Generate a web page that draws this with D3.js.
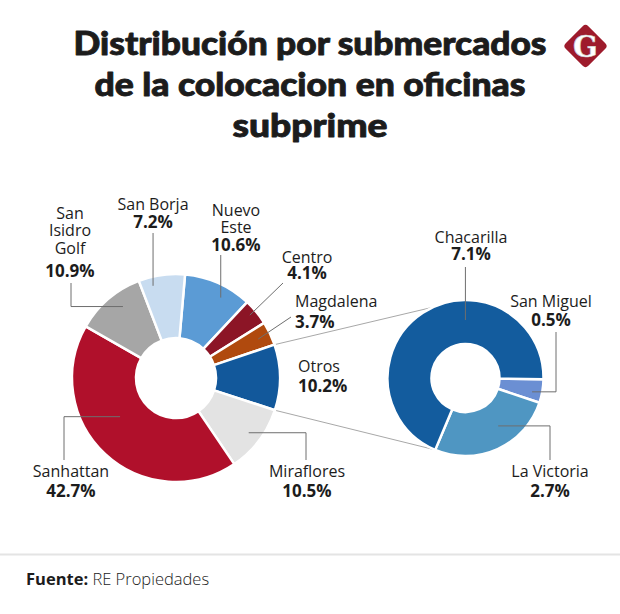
<!DOCTYPE html>
<html>
<head>
<meta charset="utf-8">
<script src="https://cdn.jsdelivr.net/npm/d3@7"></script>
<style>
  body { margin: 0; background: #fff; }
  svg { display: block; }
</style>
</head>
<body>
<svg id="chart"></svg>
<script>
const width = 620, height = 614;

// submercados (clockwise from the top)
const mainNames  = ["Nuevo Este", "Centro", "Magdalena", "Otros", "Miraflores", "Sanhattan", "San Isidro Golf", "San Borja"];
const mainValues = [10.6, 4.1, 3.7, 10.2, 10.5, 42.7, 10.9, 7.2];
const mainColors = ["#5b9bd5", "#8c1526", "#b04a0e", "#12589b", "#e3e3e3", "#b0102b", "#a6a6a6", "#c8dcf0"];

// desglose de "Otros"
const otrosNames  = ["San Miguel", "La Victoria", "Chacarilla"];
const otrosValues = [0.5, 2.7, 7.1];
const otrosColors = ["#6b8fd3", "#4f96c2", "#135c9e"];

const titleLines = ["Distribución por submercados", "de la colocacion en oficinas", "subprime"];
const sourceLabel = "Fuente:";
const sourceText = "RE Propiedades";

const rad = Math.PI / 180;
const fmt = v => d3.format(".1f")(v) + "%";
const ink = "#1c1c1c";

const svg = d3.select("#chart").attr("width", width).attr("height", height);

// ---- title ----
const titleWidths = [473, 431, 155];
const titleY = [54.5, 95.5, 136.5];
svg.append("g").selectAll("text")
  .data(titleLines)
  .join("text")
    .attr("x", 310)
    .attr("y", (d, i) => titleY[i])
    .attr("text-anchor", "middle")
    .attr("font-family", "Lato, 'DejaVu Sans', sans-serif")
    .attr("font-weight", 900)
    .attr("font-size", 33)
    .attr("fill", ink)
    .attr("stroke", ink)
    .attr("stroke-width", 0.9)
    .attr("stroke-linejoin", "round")
    .attr("textLength", (d, i) => titleWidths[i])
    .attr("lengthAdjust", "spacingAndGlyphs")
    .text(d => d);

// logo
const logo = svg.append("g").attr("transform", "translate(585.5,46)");
logo.append("rect")
  .attr("x", -16).attr("y", -16).attr("width", 32).attr("height", 32)
  .attr("rx", 4)
  .attr("transform", "rotate(45)")
  .attr("fill", "#9e1b2c");
logo.append("text")
  .attr("y", 10.5)
  .attr("text-anchor", "middle")
  .attr("font-family", "'DejaVu Serif', serif")
  .attr("font-weight", 700)
  .attr("font-size", 29)
  .attr("fill", "#fff")
  .attr("stroke", "#c9c9c9")
  .attr("stroke-width", 0.6)
  .text("G");

// ---- donuts ----
const main = { cx: 176, cy: 378, R: 104, r: 40 };
const side = { cx: 465.5, cy: 378, R: 78, r: 34 };

const mainPie = d3.pie().sort(null).startAngle(5 * rad).endAngle(365 * rad);
const sidePie = d3.pie().sort(null).startAngle(91 * rad).endAngle(451 * rad);

const mainArcs = mainPie(mainValues);
const sideArcs = sidePie(otrosValues);

function polar(c, r, a) {
  return [c.cx + r * Math.sin(a), c.cy - r * Math.cos(a)];
}

// connectors from "Otros" to its breakdown (drawn below the slices)
const otros = mainArcs[mainNames.indexOf("Otros")];
const victoria = sideArcs[otrosNames.indexOf("La Victoria")];
const connectors = [
  [polar(main, main.R, otros.startAngle), polar(side, side.R, 335 * rad)],
  [polar(main, main.R, otros.endAngle), polar(side, side.R, victoria.endAngle)]
];
svg.append("g").selectAll("line")
  .data(connectors)
  .join("line")
    .attr("x1", d => d[0][0]).attr("y1", d => d[0][1])
    .attr("x2", d => d[1][0]).attr("y2", d => d[1][1])
    .attr("stroke", "#a8a8a8")
    .attr("stroke-width", 1);

function drawDonut(c, arcs, colors) {
  const arc = d3.arc().innerRadius(c.r).outerRadius(c.R);
  svg.append("g")
    .attr("transform", `translate(${c.cx},${c.cy})`)
    .selectAll("path")
    .data(arcs)
    .join("path")
      .attr("d", arc)
      .attr("fill", (d, i) => colors[i])
      .attr("stroke", "#fff")
      .attr("stroke-width", 2.5)
      .attr("stroke-linejoin", "round");
}
drawDonut(main, mainArcs, mainColors);
drawDonut(side, sideArcs, otrosColors);

// ---- labels ----
// lines: name split, ys: baselines (name lines then percentage), leader: how to reach the slice
const labelLayout = {
  "Nuevo Este":      { x: 236, anchor: "middle", lines: ["Nuevo", "Este"], ys: [216, 233, 251], leader: { type: "v", y0: 255, r: 92, da: 5 } },
  "Centro":          { x: 307, anchor: "middle", lines: ["Centro"], ys: [263, 279], leader: { type: "d", x0: 283, y0: 283, r: 97, da: -1 } },
  "Magdalena":       { x: 295, anchor: "start",  lines: ["Magdalena"], ys: [307, 328], leader: { type: "d", x0: 291, y0: 317, r: 91, da: 0 } },
  "Otros":           { x: 298, anchor: "start",  lines: ["Otros"], ys: [372, 392], leader: null },
  "Miraflores":      { x: 307, anchor: "middle", lines: ["Miraflores"], ys: [477, 497], leader: { type: "vh", x0: 306, y0: 460, r: 91, da: 0 } },
  "Sanhattan":       { x: 71,  anchor: "middle", lines: ["Sanhattan"], ys: [477, 497], leader: { type: "vh", x0: 64, y0: 460, r: 68, da: 12.5 } },
  "San Isidro Golf": { x: 70,  anchor: "middle", lines: ["San", "Isidro", "Golf"], ys: [219, 236, 254, 277], leader: { type: "vh", x0: 71, y0: 283, r: 89, da: 4 } },
  "San Borja":       { x: 153, anchor: "middle", lines: ["San Borja"], ys: [210, 228], leader: { type: "v", y0: 233, r: 95, da: -6 } },
  "San Miguel":      { x: 551, anchor: "middle", lines: ["San Miguel"], ys: [307, 326], leader: { type: "vh", x0: 556, y0: 332, r: 68, da: 2 } },
  "La Victoria":     { x: 550, anchor: "middle", lines: ["La Victoria"], ys: [477, 497], leader: { type: "vh", x0: 550, y0: 460, r: 58, da: -10 } },
  "Chacarilla":      { x: 471, anchor: "middle", lines: ["Chacarilla"], ys: [243, 260], leader: { type: "v", y0: 267, r: 58, da: 33 } }
};

const labelData = [];
mainArcs.forEach((a, i) => labelData.push({ name: mainNames[i], value: mainValues[i], arc: a, c: main }));
sideArcs.forEach((a, i) => labelData.push({ name: otrosNames[i], value: otrosValues[i], arc: a, c: side }));

const leaderG = svg.append("g")
  .attr("fill", "none")
  .attr("stroke", "#6e6e6e")
  .attr("stroke-width", 1);
const labelG = svg.append("g")
  .attr("font-family", "'Open Sans', 'DejaVu Sans', sans-serif")
  .attr("fill", ink);

labelData.forEach(d => {
  const L = labelLayout[d.name];
  const t = labelG.append("text").attr("text-anchor", L.anchor);
  L.lines.forEach((ln, j) => {
    t.append("tspan").attr("x", L.x).attr("y", L.ys[j])
      .attr("font-size", 16).attr("font-weight", 400)
      .text(ln);
  });
  t.append("tspan").attr("x", L.x).attr("y", L.ys[L.lines.length])
    .attr("font-size", 17).attr("font-weight", 700)
    .text(fmt(d.value));

  if (!L.leader) return;
  const lead = L.leader;
  const mid = (d.arc.startAngle + d.arc.endAngle) / 2 + lead.da * rad;
  const p = polar(d.c, lead.r, mid);
  let pts;
  if (lead.type === "v") pts = [[p[0], lead.y0], p];
  else if (lead.type === "vh") pts = [[lead.x0, lead.y0], [lead.x0, p[1]], p];
  else pts = [[lead.x0, lead.y0], p];
  leaderG.append("path").attr("d", d3.line()(pts));
});

// ---- footer ----
svg.append("line")
  .attr("x1", 0).attr("x2", width)
  .attr("y1", 554.5).attr("y2", 554.5)
  .attr("stroke", "#e4e4e4")
  .attr("stroke-width", 2);

const src = svg.append("text")
  .attr("x", 26).attr("y", 585)
  .attr("font-family", "'Open Sans', 'DejaVu Sans', sans-serif")
  .attr("font-size", 16.5)
  .attr("fill", ink);
src.append("tspan").attr("font-weight", 700).text(sourceLabel);
src.append("tspan").attr("font-weight", 300).text(" " + sourceText);
</script>
</body>
</html>
